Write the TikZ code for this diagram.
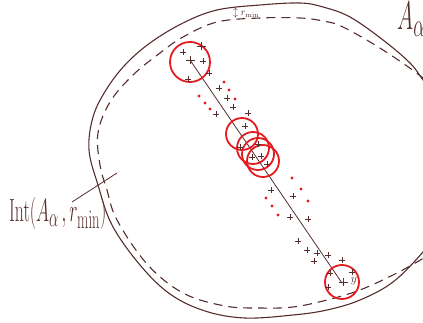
\documentclass[tikz,border=0pt]{standalone}
\usepackage{graphicx}
\definecolor{ink}{RGB}{85,45,45}
\definecolor{pen}{RGB}{228,28,32}
\tikzset{
  curve/.style={ink, line width=1.1pt, line cap=round},
  dcurve/.style={ink, line width=1.1pt, dash pattern=on 9pt off 6pt},
  ring/.style={pen, line width=1.8pt},
  rdot/.style={pen},
  cr/.style={ink, line width=0.9pt},
  lbl/.style={ink, inner sep=0pt},
}
\begin{document}
\begin{tikzpicture}[x=1pt,y=-1pt]
\useasboundingbox (0,0) rectangle (423,323);
\clip (0,0) rectangle (423,323);
% outer solid boundary
\draw[curve] plot[smooth, tension=0.6] coordinates {
 (445,110) (423,80) (410,63) (383,40) (350,17) (323,7) (300,3) (260,5) (217,10) (183,23) (150,43) (125,65) (106,90) (93,117) (89,150) (98,185) (112,225) (140,265) (170,294) (205,311) (245,318) (293,315) (327,310) (360,300) (393,282) (423,252) (440,228)};
% dashed inner boundary
\draw[dcurve] plot[smooth, tension=0.6] coordinates {
 (445,100) (423,78) (383,50) (343,27) (323,21) (300,18) (260,18) (217,22) (183,37) (160,53) (133,75) (110,102) (98,133) (100,165) (107,190) (117,220) (147,264) (183,293) (225,306) (260,308) (293,307) (327,300) (360,290) (393,275) (417,262) (440,248)};
% centre segment
\coordinate (p) at (190,60);
\coordinate (q) at (342,283);
\draw[ink, line width=0.8pt] (p) -- (q);
% red circles
\draw[ring] (190,62) circle (20);
\draw[ring] (242,134) circle (16);
\draw[ring] (253,148) circle (16);
\draw[ring] (258,154) circle (16);
\draw[ring] (263,161) circle (16);
\draw[ring] (342,282) circle (17);
% crosses
\foreach \x/\y in {183/52,203/61,188/79,209/73,219/88,227/98,233/107,216/114,248/113,245/126,240/147,258/144,261/156,252/157,267/164,271/190,293/196,290/217,308/219,298/241,307/250,317/253,328/255,314/261,330/273,352/272,328/287,342/260}
  \draw[cr] (\x,\y) +(-2.8,0) -- +(2.8,0) +(0,-2.8) -- +(0,2.8);
\foreach \x/\y in {201/46,190/60,343/282}
  \draw[cr] (\x,\y) +(-4.5,0) -- +(4.5,0) +(0,-4) -- +(0,4);
% red dots
\foreach \x/\y in {224/82,229/90,235/99,199/96,205/103,210/109,292/178,301/189,308/201,266/198,272/206,278/215}
  \fill[rdot] (\x,\y) circle (1.6);
% labels
\node[lbl, anchor=base west, font=\normalsize] (rmin) at (233,16) {$\updownarrow r_{\mathrm{min}}$};
\node[lbl, anchor=base west, font=\Huge] (aa) at (397,30) {\scalebox{0.88}[1.61]{$A_\alpha$}};
\node[lbl, anchor=base west, font=\Huge] (int) at (9,222) {\scalebox{0.71}[1.29]{$\mathrm{Int}(A_\alpha\,,r_{\mathrm{min}})$}};
\node[lbl, font=\large] (yy) at (354,281) {$y$};
\coordinate (lead) at (117,173);
\draw[ink, line width=0.8pt] (72,202) -- (lead);
\end{tikzpicture}
\end{document}
